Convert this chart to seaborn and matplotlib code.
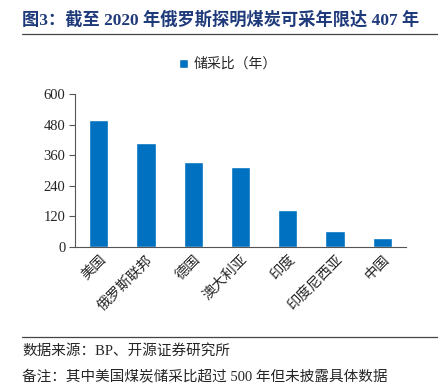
import matplotlib
matplotlib.use("Agg")
import matplotlib.pyplot as plt
import seaborn as sns
import pandas as pd
from matplotlib.lines import Line2D
from matplotlib.patches import Patch

countries = ["美国", "俄罗斯联邦", "德国", "澳大利亚", "印度", "印度尼西亚", "中国"]
values = [500, 407, 334, 315, 147, 62, 37]
yticks = [0, 120, 240, 360, 480, 600]
series_name = "储采比（年）"
title = "图3：截至 2020 年俄罗斯探明煤炭可采年限达 407 年"
source = "数据来源：BP、开源证券研究所"
note = "备注：其中美国煤炭储采比超过 500 年但未披露具体数据"

sns.set_theme(style="white")
plt.rcParams['font.family'] = ['Liberation Serif', 'Noto Sans CJK SC', 'DejaVu Sans']
plt.rcParams['axes.unicode_minus'] = False

df = pd.DataFrame({"country": countries, "value": values})
bar_color = "#0070C0"

fig = plt.figure(figsize=(4.38, 3.87), dpi=100)
ax = fig.add_axes([75/438, 1-247/387, (406-75)/438, (247-94)/387])
sns.barplot(data=df, x="country", y="value", color=bar_color, width=0.41,
            saturation=1, ax=ax)
ax.set_ylim(0, 600)
ax.set_xlim(-0.5, len(countries)-0.5)
ax.set_yticks(yticks)
ax.set_yticklabels([str(t) for t in yticks], fontsize=10.5,
                   family=['Liberation Serif'])
ax.set_xlabel("")
ax.set_ylabel("")
for s in ["top", "right"]:
    ax.spines[s].set_visible(False)
for s in ["left", "bottom"]:
    ax.spines[s].set_color("#555555")
    ax.spines[s].set_linewidth(0.8)
ax.set_xticks([i - 0.5 for i in range(len(countries)+1)], minor=True)
ax.tick_params(axis="x", which="major", length=0, pad=4)
ax.tick_params(axis="x", which="minor", length=4, color="#555555", width=0.8, direction="out")
ax.tick_params(axis="y", length=4, color="#555555", width=0.8, direction="out", left=True, pad=3)
ax.set_xticklabels(countries, rotation=45, ha="right", rotation_mode="anchor",
                   fontsize=10.3, family=['Noto Sans CJK SC'])

fig.text(22/438, 1-20/387, title, fontsize=12.4, fontweight="bold", color="#1F3A7A",
         va="center", ha="left", family=['Liberation Serif', 'Noto Sans CJK SC'])
fig.add_artist(Line2D([22/438, 1.0], [1-34/387, 1-34/387], color="#444444", lw=0.9))
fig.legend(handles=[Patch(facecolor=bar_color, label=series_name)],
           loc="center", bbox_to_anchor=(228/438, 1-64/387), frameon=False,
           handlelength=0.6, handleheight=0.6, handletextpad=0.4,
           prop={'family': ['Noto Sans CJK SC'], 'size': 10})
fig.add_artist(Line2D([22/438, 1.0], [1-337/387, 1-337/387], color="#444444", lw=0.9))
fig.text(22/438, 1-351/387, source, fontsize=10.5, va="center", ha="left",
         family=['Liberation Serif', 'Noto Sans CJK SC'])
fig.text(22/438, 1-376/387, note, fontsize=10.5, va="center", ha="left",
         family=['Liberation Serif', 'Noto Sans CJK SC'])

fig.savefig("out.png", dpi=100)
